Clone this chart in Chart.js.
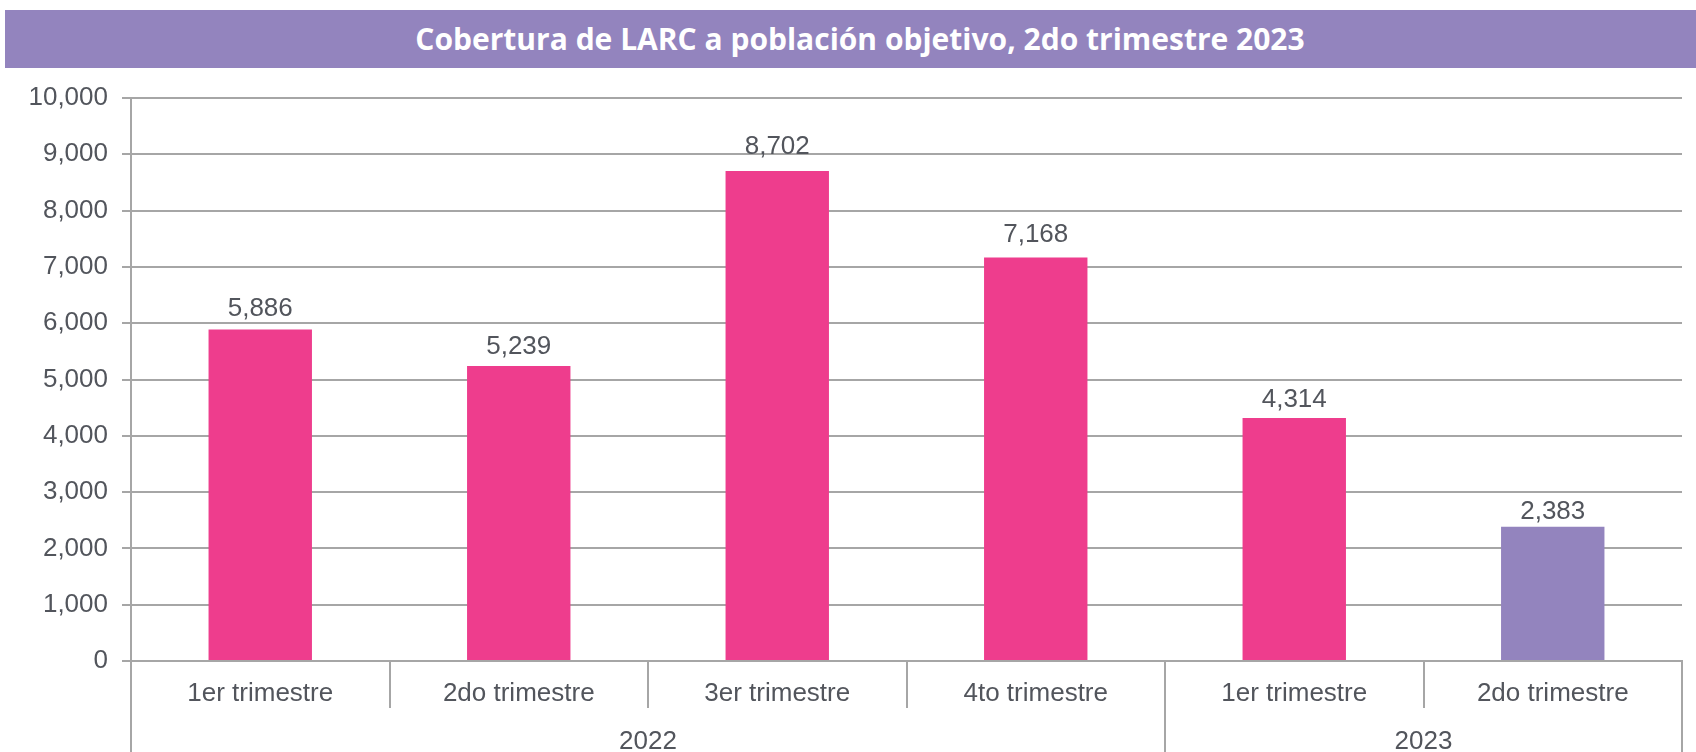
<!DOCTYPE html>
<html>
<head>
<meta charset="utf-8">
<script src="https://cdn.jsdelivr.net/npm/chart.js@4/dist/chart.umd.min.js"></script>
<style>
  body { margin: 0; background: #fff; }
  #wrap { position: relative; width: 1696px; height: 752px; overflow: hidden; }
  #title {
    position: absolute; left: 5px; top: 10px; width: 1691px; height: 58px;
    box-sizing: border-box; padding-left: 19px;
    background: #9384be; color: #fff;
    font: bold 30px 'Open Sans', sans-serif; line-height: 58px; text-align: center;
  }
  canvas { position: absolute; left: 0; top: 0; }
</style>
</head>
<body>
<div id="wrap">
  <canvas id="larcChart" width="1696" height="752"></canvas>
  <div id="title">Cobertura de LARC a población objetivo, 2do trimestre 2023</div>
</div>
<script>
const quarters = ['1er trimestre', '2do trimestre', '3er trimestre', '4to trimestre', '1er trimestre', '2do trimestre'];
const years = ['2022', '2023'];
const yearSpans = [4, 2];
const coverage = [5886, 5239, 8702, 7168, 4314, 2383];
const barColors = ['#ee3d8d', '#ee3d8d', '#ee3d8d', '#ee3d8d', '#ee3d8d', '#9384be'];

const FONT = "'Liberation Sans', Arial, sans-serif";
const TEXT = '#52555c';
const GRID = '#a6a6a6';

const fmt = v => v.toLocaleString('en-US');

// value labels above bars (taller bars get a bit more room, like the original)
const barLabels = {
  id: 'barLabels',
  afterDatasetsDraw(chart) {
    const ctx = chart.ctx;
    const meta = chart.getDatasetMeta(0);
    ctx.save();
    ctx.font = '26px ' + FONT;
    ctx.fillStyle = TEXT;
    ctx.textAlign = 'center';
    ctx.textBaseline = 'alphabetic';
    meta.data.forEach((bar, i) => {
      ctx.fillText(fmt(coverage[i]), bar.x, bar.y - 5 - coverage[i] * 0.0014);
    });
    ctx.restore();
  }
};

// year row under the quarter labels
const yearRow = {
  id: 'yearRow',
  afterDraw(chart) {
    const x = chart.scales.x;
    const ctx = chart.ctx;
    const cw = (x.right - x.left) / quarters.length;
    const edge = i => x.getPixelForValue(i) - cw / 2;
    const top = x.top;
    const bottom = chart.height;
    ctx.save();
    ctx.strokeStyle = GRID;
    ctx.lineWidth = 2;
    let start = 0;
    const bounds = [0];
    yearSpans.forEach(s => { start += s; bounds.push(start); });
    bounds.forEach(b => {
      const px = Math.round(edge(b));
      ctx.beginPath();
      ctx.moveTo(px, top);
      ctx.lineTo(px, bottom);
      ctx.stroke();
    });
    ctx.font = '26px ' + FONT;
    ctx.fillStyle = TEXT;
    ctx.textAlign = 'center';
    ctx.textBaseline = 'middle';
    years.forEach((y, i) => {
      const cx = (edge(bounds[i]) + edge(bounds[i + 1])) / 2;
      ctx.fillText(y, cx, 742);
    });
    ctx.restore();
  }
};

new Chart(document.getElementById('larcChart'), {
  type: 'bar',
  data: {
    labels: quarters,
    datasets: [{
      label: 'Cobertura',
      data: coverage,
      backgroundColor: barColors,
      barPercentage: 0.4,
      categoryPercentage: 1
    }]
  },
  options: {
    responsive: false,
    animation: false,
    layout: { padding: { top: 98, right: 14, left: 0, bottom: 0 } },
    plugins: {
      legend: { display: false },
      tooltip: { enabled: false }
    },
    scales: {
      x: {
        offset: true,
        afterFit: s => { s.height = 91; },
        grid: {
          offset: true,
          drawOnChartArea: false,
          drawTicks: true,
          tickLength: 47,
          color: GRID,
          lineWidth: 2
        },
        border: { display: true, color: GRID, width: 2 },
        ticks: {
          color: TEXT,
          font: { family: FONT, size: 26 },
          padding: -30,
          maxRotation: 0,
          autoSkip: false
        }
      },
      y: {
        min: 0,
        max: 10000,
        afterFit: s => { s.width = 131; },
        grid: {
          color: GRID,
          lineWidth: 2,
          drawTicks: true,
          tickLength: 9
        },
        border: { display: true, color: GRID, width: 2 },
        ticks: {
          stepSize: 1000,
          color: TEXT,
          padding: 14,
          font: { family: FONT, size: 26 },
          callback: v => fmt(v)
        }
      }
    }
  },
  plugins: [barLabels, yearRow]
});
</script>
</body>
</html>
